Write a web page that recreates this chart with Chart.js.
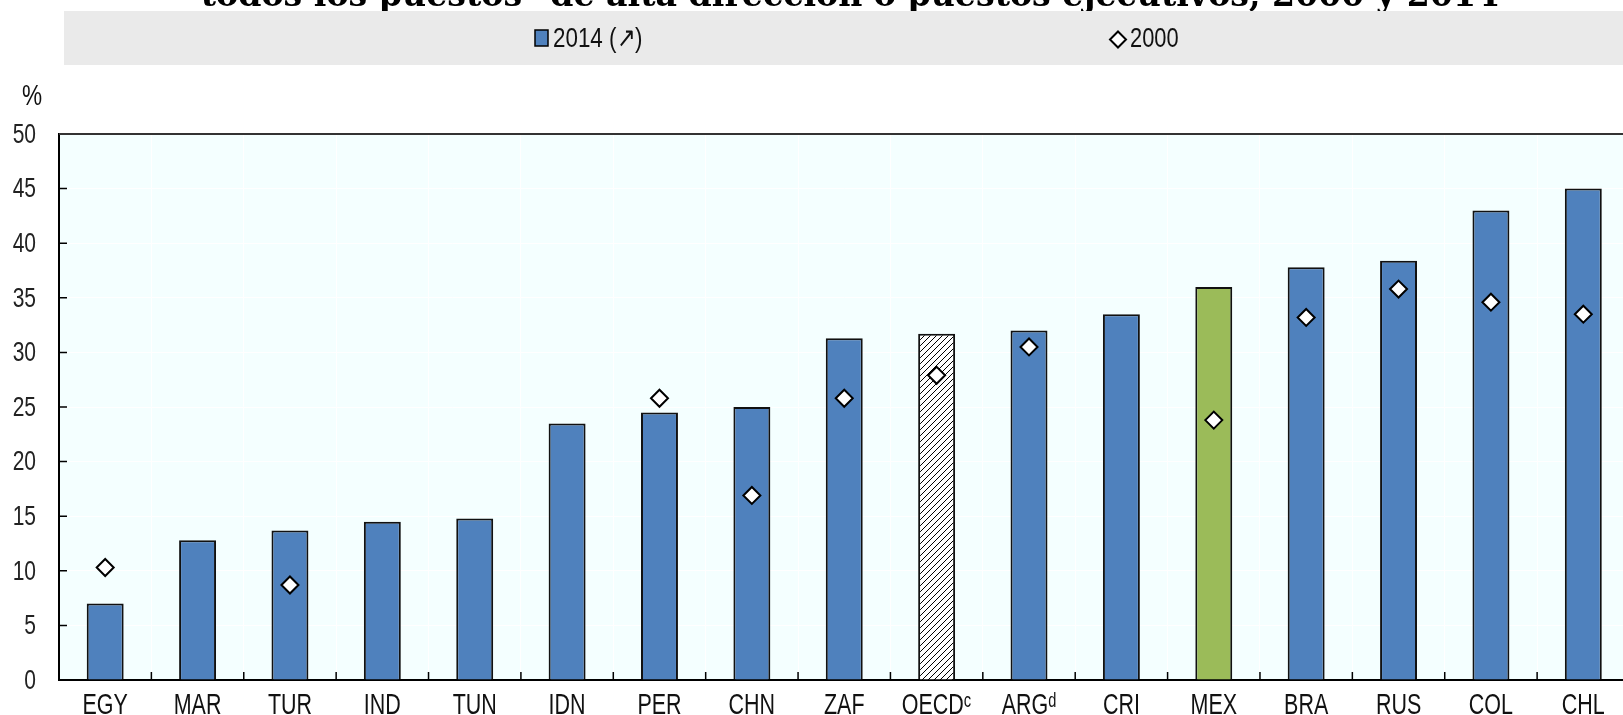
<!DOCTYPE html>
<html>
<head>
<meta charset="utf-8">
<script src="https://cdn.jsdelivr.net/npm/chart.js@4.4.1/dist/chart.umd.min.js"></script>
<style>
html, body { margin: 0; padding: 0; background: #fff; overflow: hidden; }
#wrap { position: relative; width: 1640px; height: 715px; }
</style>
</head>
<body>
<div id="wrap"><canvas id="chart" width="1640" height="715"></canvas></div>
<script>
// data
var categories = ['EGY', 'MAR', 'TUR', 'IND', 'TUN', 'IDN', 'PER', 'CHN', 'ZAF', 'OECD\u1D9C', 'ARG\u1D48', 'CRI', 'MEX', 'BRA', 'RUS', 'COL', 'CHL'];
var values2014 = [7.0, 12.8, 13.7, 14.5, 14.8, 23.5, 24.5, 25.0, 31.3, 31.7, 32.0, 33.5, 36.0, 37.8, 38.4, 43.0, 45.0];
var values2000 = [10.3, null, 8.7, null, null, null, 25.8, 16.9, 25.8, 27.9, 30.5, null, 23.8, 33.2, 35.8, 34.6, 33.5];
var yMin = 0, yMax = 50, yStep = 5;
var titleText = 'todos los puestos\u1D47 de alta direcci\u00F3n o puestos ejecutivos, 2000 y 2014';
var legend2014 = '2014 (\u2197)';
var legend2000 = '2000';

var BLUE = '#4F81BD';
var GREEN = '#9BBB59';
var sans = '"Liberation Sans", Arimo, Arial, sans-serif';

var ctx = document.getElementById('chart').getContext('2d');

function hatch() {
    var c = document.createElement('canvas');
    c.width = 6; c.height = 6;
    var g = c.getContext('2d');
    g.fillStyle = '#fff';
    g.fillRect(0, 0, 6, 6);
    g.strokeStyle = '#000';
    g.lineWidth = 1;
    g.beginPath();
    g.moveTo(0, 6); g.lineTo(6, 0);
    g.moveTo(-1, 1); g.lineTo(1, -1);
    g.moveTo(5, 7); g.lineTo(7, 5);
    g.stroke();
    return ctx.createPattern(c, 'repeat');
}

var barColors = categories.map(function (c) {
    if (c.indexOf('OECD') === 0) return hatch();
    if (c === 'MEX') return GREEN;
    return BLUE;
});

function diamond(g, x, y, r) {
    g.beginPath();
    g.moveTo(x, y - r); g.lineTo(x + r, y); g.lineTo(x, y + r); g.lineTo(x - r, y);
    g.closePath();
}

// narrow text: regular sans squeezed horizontally, like Arial Narrow
function narrowText(g, text, x, y, size, squeeze, align, baseline, color) {
    g.save();
    g.translate(x, y);
    g.scale(squeeze, 1);
    g.font = size + 'px ' + sans;
    g.textAlign = align;
    g.textBaseline = baseline;
    g.fillStyle = color;
    g.fillText(text, 0, 0);
    g.restore();
}

var decor = {
    id: 'decor',
    beforeDraw: function (chart) {
        var g = chart.ctx, a = chart.chartArea;
        g.save();
        // title (cut at the top edge)
        g.font = 'bold 30px "DejaVu Serif", "Liberation Serif", serif';
        var w = g.measureText(titleText).width;
        var size = 30 * 1300 / w;
        g.font = 'bold ' + size.toFixed(1) + 'px "DejaVu Serif", "Liberation Serif", serif';
        g.fillStyle = '#000';
        g.textAlign = 'center';
        g.textBaseline = 'alphabetic';
        g.fillText(titleText, 850, 6);
        // legend band
        g.fillStyle = '#EAEAEA';
        g.fillRect(64, 11, chart.width - 64, 54);
        var ds = chart.data.datasets;
        g.fillStyle = BLUE;
        g.fillRect(535, 30, 13, 16);
        g.strokeStyle = '#000';
        g.lineWidth = 1.5;
        g.strokeRect(535, 30, 13, 16);
        narrowText(g, legend2014, 553, 47, 28, 0.8, 'left', 'alphabetic', '#111');
        diamond(g, 1118, 39.5, 8);
        g.fillStyle = ds[0].pointBackgroundColor;
        g.fill();
        g.lineWidth = 2;
        g.stroke();
        narrowText(g, legend2000, 1130, 47, 28, 0.78, 'left', 'alphabetic', '#111');
        // unit
        narrowText(g, '%', 32, 105, 29, 0.78, 'center', 'alphabetic', '#111');
        // plot background
        g.fillStyle = '#F4FFFF';
        g.fillRect(a.left, a.top, a.right - a.left, a.bottom - a.top);
        g.restore();
    },
    afterDraw: function (chart) {
        var g = chart.ctx, a = chart.chartArea;
        var x = chart.scales.x, y = chart.scales.y;
        g.save();
        // inward tick marks
        g.strokeStyle = '#000';
        g.lineWidth = 1.5;
        g.beginPath();
        y.ticks.forEach(function (t) {
            var py = y.getPixelForValue(t.value);
            g.moveTo(a.left, py); g.lineTo(a.left + 8, py);
        });
        for (var i = 1; i < x.ticks.length; i++) {
            var px = (x.getPixelForTick(i - 1) + x.getPixelForTick(i)) / 2;
            g.moveTo(px, a.bottom); g.lineTo(px, a.bottom - 8);
        }
        g.stroke();
        g.strokeStyle = '#333';
        g.lineWidth = 2;
        g.beginPath();
        g.moveTo(a.left, a.top); g.lineTo(a.right, a.top);
        g.stroke();
        // tick labels
        y.ticks.forEach(function (t) {
            narrowText(g, String(t.value), 36, y.getPixelForValue(t.value) + 1, 28, 0.75, 'right', 'middle', '#222');
        });
        x.ticks.forEach(function (t, i) {
            narrowText(g, chart.data.labels[i], x.getPixelForTick(i), 714, 29, 0.74, 'center', 'alphabetic', '#111');
        });
        g.restore();
    }
};

var chart = new Chart(ctx, {
    data: {
        labels: categories,
        datasets: [{
            type: 'line',
            label: '2000',
            data: values2000,
            showLine: false,
            pointStyle: 'rectRot',
            pointRadius: 8.5,
            pointBackgroundColor: '#fff',
            pointBorderColor: '#000',
            pointBorderWidth: 2,
            order: 0
        }, {
            type: 'bar',
            label: '2014',
            data: values2014,
            backgroundColor: barColors,
            borderColor: '#111',
            borderWidth: 2,
            barPercentage: 0.4,
            categoryPercentage: 1,
            order: 1
        }]
    },
    options: {
        responsive: false,
        animation: false,
        layout: { padding: { top: 134, right: 1, left: 0, bottom: 0 } },
        plugins: {
            legend: { display: false },
            tooltip: { enabled: false }
        },
        scales: {
            x: {
                offset: true,
                grid: { color: '#fff', lineWidth: 1, drawTicks: false, offset: true },
                border: { color: '#000', width: 2 },
                ticks: { display: false, autoSkip: false },
                afterFit: function (s) { s.height = 35; }
            },
            y: {
                min: yMin,
                max: yMax,
                grid: { color: '#fff', lineWidth: 1, drawTicks: false },
                border: { color: '#000', width: 2 },
                ticks: { display: false, stepSize: yStep },
                afterFit: function (s) { s.width = 59; }
            }
        }
    },
    plugins: [decor]
});
</script>
</body>
</html>
